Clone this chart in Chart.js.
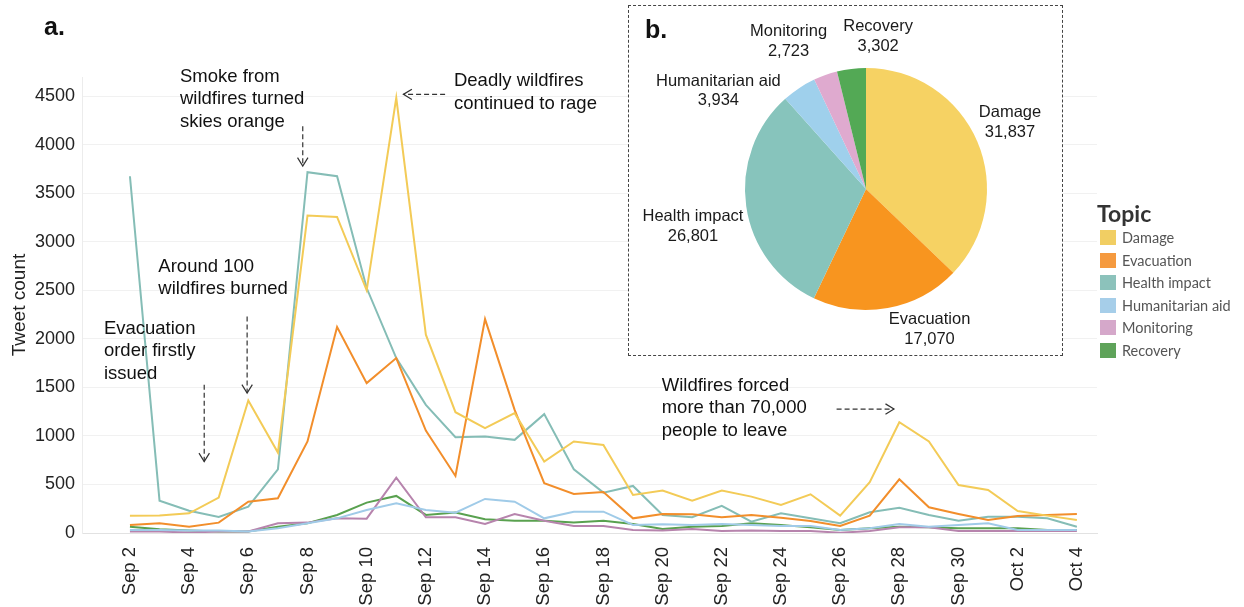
<!DOCTYPE html>
<html>
<head>
<meta charset="utf-8">
<script src="https://cdn.jsdelivr.net/npm/chart.js@4.4.0/dist/chart.umd.min.js"></script>
<style>
  html, body { margin: 0; padding: 0; background: #fff; }
  body { width: 1244px; height: 607px; position: relative; overflow: hidden; font-family: 'Liberation Sans', Arial, sans-serif; }
  #lineChart { position: absolute; left: 0; top: 0; }
  #pieBox { position: absolute; left: 628px; top: 5px; width: 435px; height: 351px; box-sizing: border-box;
            border: 1px dashed #444; background: #fff; }
  #pieChart { position: absolute; left: 0; top: 0; }
  .panel { position: absolute; font-weight: bold; font-size: 25px; color: #111; }
  #legendTitle { position: absolute; left: 1097px; top: 199px; font-family: Lato, 'Open Sans', sans-serif; font-weight: bold; font-size: 23px; color: #333; }
  .legItem { position: absolute; left: 1100px; height: 16px; font-family: Lato, 'Open Sans', sans-serif; font-size: 14.5px; color: #555; line-height: 16px; white-space: nowrap; }
  .legItem span { display: inline-block; width: 16px; height: 15px; vertical-align: top; margin-right: 6px; }
</style>
</head>
<body>
<canvas id="lineChart" width="1244" height="607"></canvas>
<div class="panel" style="left:44px; top:12px;">a.</div>
<div id="pieBox">
  <canvas id="pieChart" width="433" height="349"></canvas>
  <div class="panel" style="left:16px; top:9px;">b.</div>
</div>
<div id="legendTitle">Topic</div>
<div id="legend"></div>

<script>
// daily tweet counts, Sep 2 .. Oct 4
const dates = ['Sep 2', 'Sep 3', 'Sep 4', 'Sep 5', 'Sep 6', 'Sep 7', 'Sep 8', 'Sep 9', 'Sep 10', 'Sep 11',
    'Sep 12', 'Sep 13', 'Sep 14', 'Sep 15', 'Sep 16', 'Sep 17', 'Sep 18', 'Sep 19', 'Sep 20', 'Sep 21',
    'Sep 22', 'Sep 23', 'Sep 24', 'Sep 25', 'Sep 26', 'Sep 27', 'Sep 28', 'Sep 29', 'Sep 30', 'Oct 1',
    'Oct 2', 'Oct 3', 'Oct 4'];

const topics = ['Damage', 'Evacuation', 'Health impact', 'Humanitarian aid', 'Monitoring', 'Recovery'];

const damage = [179, 180, 203, 365, 1366, 829, 3272, 3258, 2501, 4486, 2044, 1245, 1080, 1235, 736, 943, 908,
    392, 437, 333, 437, 375, 289, 399, 179, 523, 1142, 943, 495, 444, 227, 179, 134];
const evacuation = [83, 100, 65, 107, 323, 358, 943, 2123, 1545, 1803, 1056, 588, 2205, 1269, 513, 403, 423,
    151, 196, 193, 162, 186, 158, 124, 72, 179, 554, 265, 196, 134, 175, 186, 196];
const healthImpact = [3677, 333, 230, 165, 272, 657, 3719, 3677, 2525, 1803, 1321, 988, 994, 960, 1225, 657, 416,
    485, 186, 162, 279, 117, 203, 151, 100, 213, 261, 186, 127, 168, 168, 151, 65];
const humanitarianAid = [31, 31, 25, 25, 15, 48, 100, 151, 237, 306, 237, 210, 351, 323, 151, 220, 220,
    83, 90, 83, 93, 83, 72, 72, 31, 48, 93, 65, 83, 100, 31, 31, 31];
const monitoring = [15, 15, 5, 15, 15, 100, 107, 151, 148, 571, 162, 162, 93, 196, 127, 72, 72,
    31, 25, 41, 20, 25, 20, 20, 3, 20, 58, 58, 20, 20, 20, 20, 20];
const recovery = [65, 38, 25, 15, 15, 65, 100, 186, 313, 382, 186, 210, 141, 127, 127, 107, 127,
    93, 41, 65, 72, 100, 83, 58, 31, 48, 65, 58, 48, 48, 48, 31, 31];

// totals for the pie
const pieValues = [31837, 17070, 26801, 3934, 2723, 3302];

const yTicks = [0, 500, 1000, 1500, 2000, 2500, 3000, 3500, 4000, 4500];

const lineColors = ['#F3CB57', '#F28E2B', '#85BDB6', '#A0CBE8', '#B784AD', '#59A14F'];
const pieColors = ['#F6D263', '#F8951F', '#87C4BC', '#9FD0EC', '#DFAACF', '#53A955'];
const legendColors = ['#F1CE63', '#F59A3F', '#8CC2BB', '#A6CEE9', '#D5A8CA', '#5FA35A'];

const FONT = "'Liberation Sans', Arial, Helvetica, sans-serif";

// annotation texts, anchored in data units (x = day index, y = tweet count)
const notes = [
    { lines: ['Evacuation', 'order firstly', 'issued'], x: -0.88, y: 2105,
      arrow: [2.51, 1527, 2.51, 736] },
    { lines: ['Around 100', 'wildfires burned'], x: 0.96, y: 2745,
      arrow: [3.96, 2232, 3.96, 1442] },
    { lines: ['Smoke from', 'wildfires turned', 'skies orange'], x: 1.69, y: 4706,
      arrow: [5.84, 4193, 5.84, 3781] },
    { lines: ['Deadly wildfires', 'continued to rage'], x: 10.95, y: 4655,
      arrow: [10.65, 4521, 9.24, 4521] },
    { lines: ['Wildfires forced', 'more than 70,000', 'people to leave'], x: 17.97, y: 1517,
      arrow: [23.88, 1277, 25.82, 1277] }
];

function drawArrow(ctx, x1, y1, x2, y2) {
    ctx.save();
    ctx.strokeStyle = '#333';
    ctx.lineWidth = 1.2;
    ctx.setLineDash([5, 3]);
    ctx.beginPath();
    ctx.moveTo(x1, y1);
    ctx.lineTo(x2, y2);
    ctx.stroke();
    ctx.setLineDash([]);
    const ang = Math.atan2(y2 - y1, x2 - x1);
    const len = 10, spread = 0.55;
    ctx.beginPath();
    ctx.moveTo(x2 - len * Math.cos(ang - spread), y2 - len * Math.sin(ang - spread));
    ctx.lineTo(x2, y2);
    ctx.lineTo(x2 - len * Math.cos(ang + spread), y2 - len * Math.sin(ang + spread));
    ctx.stroke();
    ctx.restore();
}

const notesPlugin = {
    id: 'notes',
    afterDraw(chart) {
        const ctx = chart.ctx;
        const xs = chart.scales.x, ys = chart.scales.y;
        ctx.save();
        ctx.font = '18.5px ' + FONT;
        ctx.fillStyle = '#111';
        ctx.textAlign = 'left';
        ctx.textBaseline = 'middle';
        notes.forEach(n => {
            const tx = xs.getPixelForValue(n.x);
            const ty = ys.getPixelForValue(n.y);
            n.lines.forEach((t, i) => ctx.fillText(t, tx, ty + i * 22.5));
            const a = n.arrow;
            drawArrow(ctx, xs.getPixelForValue(a[0]), ys.getPixelForValue(a[1]),
                xs.getPixelForValue(a[2]), ys.getPixelForValue(a[3]));
        });
        ctx.restore();
    }
};

const seriesList = [damage, evacuation, healthImpact, humanitarianAid, monitoring, recovery];

new Chart(document.getElementById('lineChart'), {
    type: 'line',
    data: {
        datasets: seriesList.map((s, k) => ({
            label: topics[k],
            data: s.map((v, i) => ({ x: i, y: v })),
            borderColor: lineColors[k],
            borderWidth: 2,
            pointRadius: 0,
            tension: 0,
            fill: false
        }))
    },
    options: {
        responsive: false,
        animation: false,
        devicePixelRatio: 1,
        layout: { padding: { left: 8, top: 77, right: 147, bottom: 0 } },
        plugins: { legend: { display: false }, tooltip: { enabled: false } },
        scales: {
            x: {
                type: 'linear',
                min: -1.62,
                max: 32.68,
                afterBuildTicks: sc => { sc.ticks = dates.map((d, i) => ({ value: i })).filter(t => t.value % 2 === 0); },
                afterFit: sc => { sc.height = 74; },
                grid: { display: false },
                border: { display: true, color: '#e2e2e2' },
                ticks: {
                    autoSkip: false,
                    maxRotation: 90,
                    minRotation: 90,
                    padding: 6,
                    color: '#222',
                    font: { family: FONT, size: 18.5 },
                    callback: v => dates[v]
                }
            },
            y: {
                min: 0,
                max: 4700,
                afterBuildTicks: sc => { sc.ticks = yTicks.map(v => ({ value: v })); },
                afterFit: sc => { sc.width = 74; },
                grid: { color: '#f1f1f1', drawTicks: false },
                border: { display: true, color: '#ececec' },
                ticks: { padding: 7, color: '#222', font: { family: FONT, size: 18 }, callback: v => String(v) },
                title: { display: true, text: 'Tweet count', color: '#222', padding: 0, font: { family: FONT, size: 19 } }
            }
        }
    },
    plugins: [notesPlugin]
});

// pie labels placed relative to the pie centre, in units of the radius
const pieLabelOffsets = [[1.19, -0.55], [0.525, 1.16], [-1.43, 0.31], [-1.22, -0.81], [-0.64, -1.22], [0.1, -1.26]];

const pieLabelPlugin = {
    id: 'pieLabels',
    afterDraw(chart) {
        const ctx = chart.ctx;
        const arc = chart.getDatasetMeta(0).data[0];
        const cx = arc.x, cy = arc.y, r = arc.outerRadius;
        ctx.save();
        ctx.font = '16.5px ' + FONT;
        ctx.fillStyle = '#1a1a1a';
        ctx.textAlign = 'center';
        ctx.textBaseline = 'middle';
        chart.data.labels.forEach((lab, i) => {
            const x = cx + pieLabelOffsets[i][0] * r;
            const y = cy + pieLabelOffsets[i][1] * r;
            ctx.fillText(lab, x, y - 9.8);
            ctx.fillText(chart.data.datasets[0].data[i].toLocaleString('en-US'), x, y + 9.8);
        });
        ctx.restore();
    }
};

new Chart(document.getElementById('pieChart'), {
    type: 'pie',
    data: {
        labels: topics,
        datasets: [{ data: pieValues, backgroundColor: pieColors, borderWidth: 0 }]
    },
    options: {
        responsive: false,
        animation: false,
        devicePixelRatio: 1,
        layout: { padding: { left: 116, top: 62, right: 75, bottom: 45 } },
        plugins: { legend: { display: false }, tooltip: { enabled: false } }
    },
    plugins: [pieLabelPlugin]
});

// legend
const legend = document.getElementById('legend');
topics.forEach((t, i) => {
    const row = document.createElement('div');
    row.className = 'legItem';
    row.style.top = (230 + i * 22.6) + 'px';
    row.innerHTML = '<span style="background:' + legendColors[i] + '"></span>' + t;
    legend.appendChild(row);
});
</script>
</body>
</html>
